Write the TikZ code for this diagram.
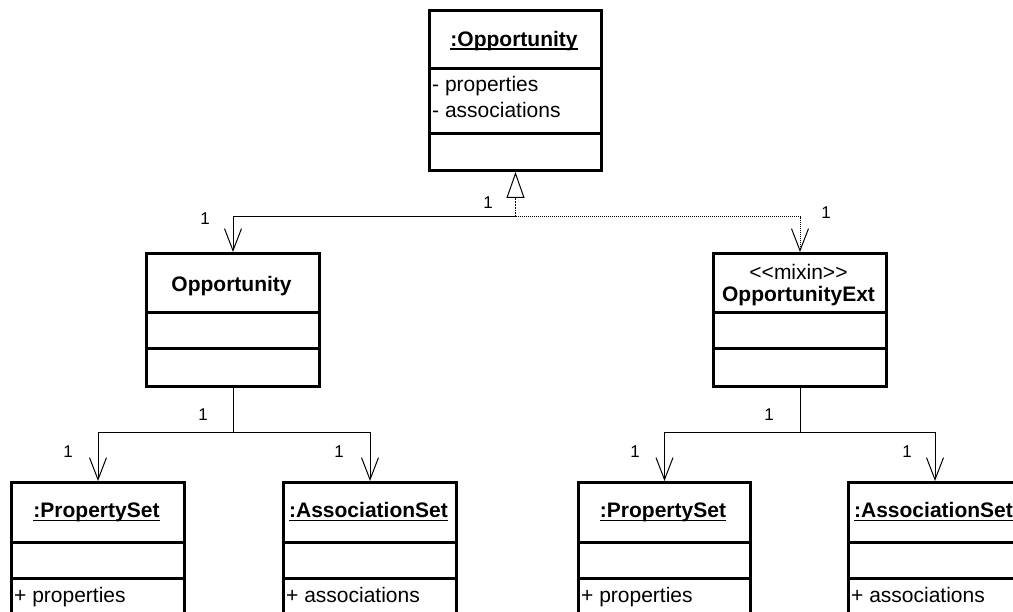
\documentclass[tikz,border=0pt]{standalone}
\usepackage{fontspec}
\setmainfont{Liberation Sans}
\usetikzlibrary{arrows.meta}
\newcommand{\objname}[1]{\setbox0\hbox{\bfseries #1}\rlap{\rule[-3pt]{\wd0}{1.5pt}}\box0}
\newcommand{\umlfont}{\fontsize{21}{25}\selectfont}

\tikzset{
  classbox/.style={draw, line width=3pt, anchor=north west, inner sep=0pt},
  divider/.style={line width=3pt},
  cname/.style={font=\umlfont\bfseries, anchor=base, inner sep=0pt},
  attr/.style={anchor=base west, inner sep=0pt},
  conn/.style={line width=1pt},
  assoc/.style={conn, -{Straight Barb[length=22pt,width=17pt]}},
  gen/.style={line width=1.8pt, -{Triangle[open,length=26pt,width=18pt,line width=1pt]}},
  mult/.style={font=\fontsize{17}{20}\selectfont, inner sep=0pt}
}

\begin{document}
\begin{tikzpicture}[x=1pt, y=-1pt, font=\umlfont]
\path[use as bounding box, clip] (0,0) rectangle (1013,612);

% top object
\node[classbox, minimum width=172pt, minimum height=160pt] (top) at (428,9) {};
\draw[divider] (top.west |- 0,69) -- (top.east |- 0,69);
\draw[divider] (top.west |- 0,134) -- (top.east |- 0,134);
\node[cname] (topname) at (514,47) {\objname{:Opportunity}};
\node[attr] (topprop) at (432,92) {- properties};
\node[attr] (topassoc) at (432,118) {- associations};

% classes
\node[classbox, minimum width=173pt, minimum height=133pt] (opp) at (145,252) {};
\draw[divider] (opp.west |- 0,313) -- (opp.east |- 0,313);
\draw[divider] (opp.west |- 0,349) -- (opp.east |- 0,349);
\node[cname] (oppname) at (231.5,292) {Opportunity};

\node[classbox, minimum width=173pt, minimum height=133pt] (ext) at (712,252) {};
\draw[divider] (ext.west |- 0,313) -- (ext.east |- 0,313);
\draw[divider] (ext.west |- 0,349) -- (ext.east |- 0,349);
\node[anchor=base, inner sep=0pt] (extster) at (798.5,280) {{<}{<}mixin{>}{>}};
\node[cname] (extname) at (798.5,302) {OpportunityExt};

% sets
\node[classbox, minimum width=173pt, minimum height=170pt] (ps1) at (10,481) {};
\draw[divider] (ps1.west |- 0,542) -- (ps1.east |- 0,542);
\draw[divider] (ps1.west |- 0,578) -- (ps1.east |- 0,578);
\node[cname] (ps1name) at (96.5,518) {\objname{:PropertySet}};
\node[attr] (ps1attr) at (14,602) {+ properties};

\node[classbox, minimum width=173pt, minimum height=170pt] (as1) at (282,481) {};
\draw[divider] (as1.west |- 0,542) -- (as1.east |- 0,542);
\draw[divider] (as1.west |- 0,578) -- (as1.east |- 0,578);
\node[cname] (as1name) at (368.5,518) {\objname{:AssociationSet}};
\node[attr] (as1attr) at (286,602) {+ associations};

\node[classbox, minimum width=172pt, minimum height=170pt] (ps2) at (577,481) {};
\draw[divider] (ps2.west |- 0,542) -- (ps2.east |- 0,542);
\draw[divider] (ps2.west |- 0,578) -- (ps2.east |- 0,578);
\node[cname] (ps2name) at (663,518) {\objname{:PropertySet}};
\node[attr] (ps2attr) at (581,602) {+ properties};

\node[classbox, minimum width=173pt, minimum height=170pt] (as2) at (847,481) {};
\draw[divider] (as2.west |- 0,542) -- (as2.east |- 0,542);
\draw[divider] (as2.west |- 0,578) -- (as2.east |- 0,578);
\node[cname] (as2name) at (933.5,518) {\objname{:AssociationSet}};
\node[attr] (as2attr) at (851,602) {+ associations};

% connectors
\coordinate (gsplit) at (top.south |- 0,217);
\draw[assoc] (gsplit) -| (opp.north);
\draw[assoc, densely dotted] (gsplit) -| (ext.north);
\draw[gen, densely dotted] (gsplit) -- (top.south);

\coordinate (osplit) at (opp.south |- 0,433);
\draw[conn] (opp.south) -- (osplit);
\draw[assoc] (osplit) -| (ps1.north);
\draw[assoc] (osplit) -| (as1.north);

\coordinate (esplit) at (ext.south |- 0,433);
\draw[conn] (ext.south) -- (esplit);
\draw[assoc] (esplit) -| (ps2.north);
\draw[assoc] (esplit) -| (as2.north);

% multiplicities
\node[mult] (m1) at (205,219) {1};
\node[mult] (m2) at (488,203) {1};
\node[mult] (m3) at (826,213) {1};
\node[mult] (m4) at (203,415) {1};
\node[mult] (m5) at (68,452) {1};
\node[mult] (m6) at (339,452) {1};
\node[mult] (m7) at (769,415) {1};
\node[mult] (m8) at (635,452) {1};
\node[mult] (m9) at (907,452) {1};
\end{tikzpicture}
\end{document}
